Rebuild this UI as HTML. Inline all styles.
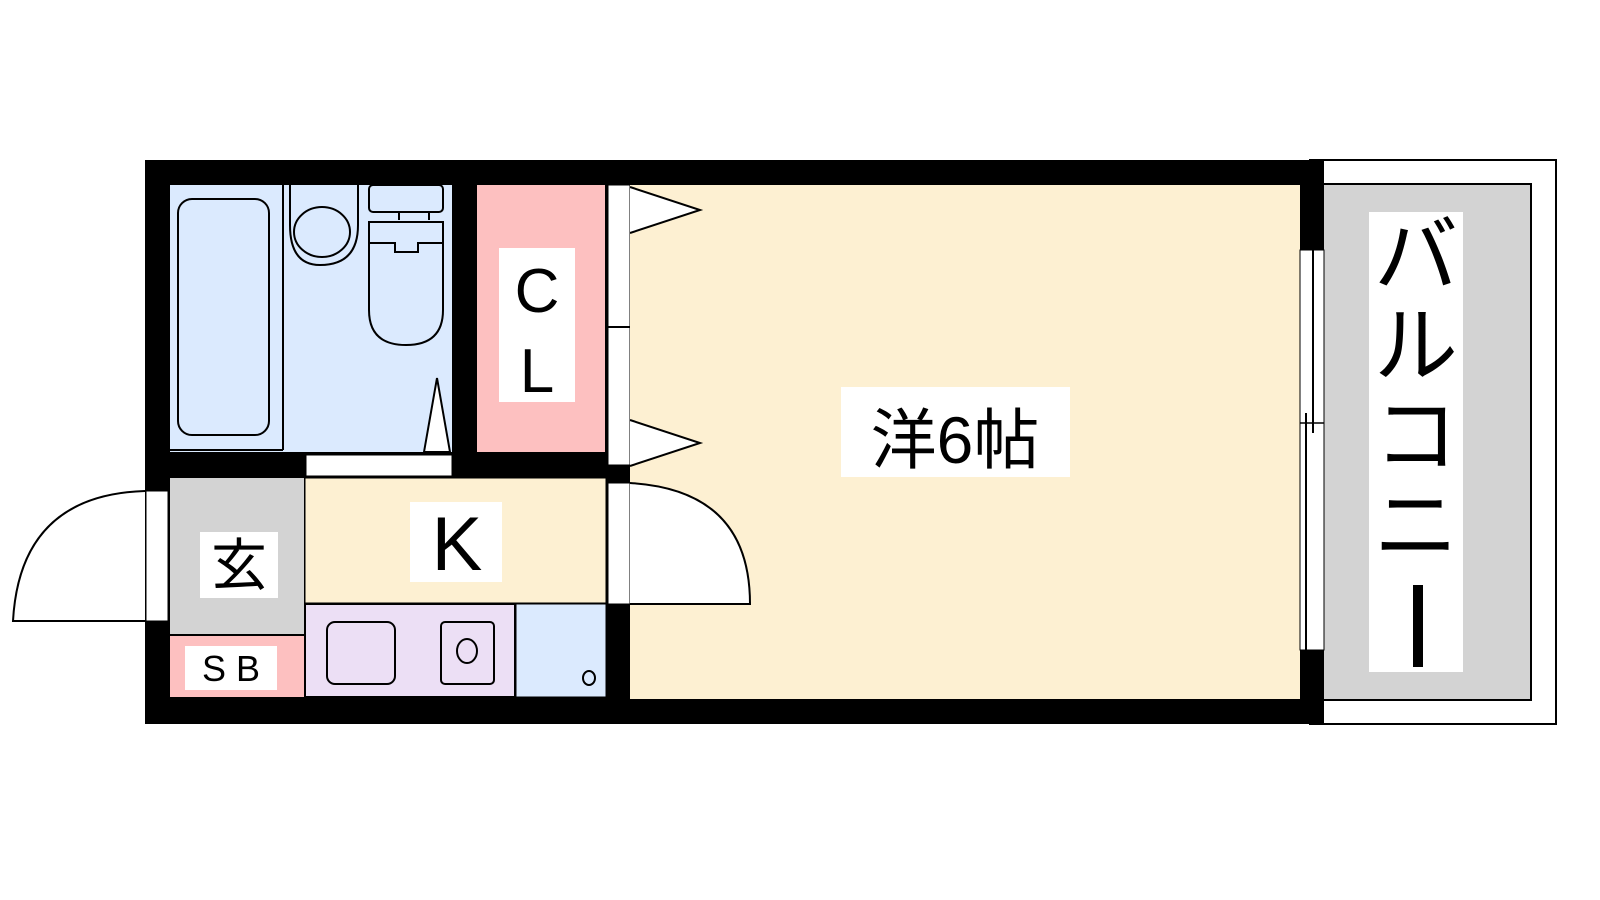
<!DOCTYPE html>
<html><head><meta charset="utf-8"><style>body{margin:0;background:#fff}svg{display:block}</style></head><body>
<svg width="1600" height="900" xmlns="http://www.w3.org/2000/svg" font-family="Liberation Sans, Noto Sans CJK JP, sans-serif">
<rect width="1600" height="900" fill="#fff"/>
<!-- balcony -->
<rect x="1310" y="160" width="246" height="564" fill="#fff" stroke="#000" stroke-width="2"/>
<rect x="1320" y="184" width="211" height="516" fill="#d3d3d3" stroke="#000" stroke-width="2"/>
<!-- walls -->
<rect x="145" y="160" width="1179" height="564" fill="#000"/>
<!-- bath -->
<rect x="170" y="185" width="282" height="267" fill="#dbeafe"/>
<line x1="283" y1="185" x2="283" y2="450" stroke="#000" stroke-width="2"/>
<line x1="170" y1="450" x2="283" y2="450" stroke="#000" stroke-width="2"/>
<rect x="178" y="199" width="91" height="236" rx="14" fill="none" stroke="#000" stroke-width="2"/>
<path d="M290 185 V225 Q290 265 320 265 Q358 265 358 225 V185" fill="none" stroke="#000" stroke-width="2"/>
<ellipse cx="322" cy="232" rx="28" ry="25" fill="none" stroke="#000" stroke-width="2"/>
<rect x="369" y="185" width="74" height="27" rx="4" fill="none" stroke="#000" stroke-width="2"/>
<line x1="399" y1="212" x2="399" y2="220" stroke="#000" stroke-width="2"/><line x1="429" y1="212" x2="429" y2="220" stroke="#000" stroke-width="2"/>
<path d="M369 222 H443 V310 Q443 345 406 345 Q369 345 369 310 Z" fill="none" stroke="#000" stroke-width="2"/>
<path d="M369 243 H395 V252 H418 V243 H443" fill="none" stroke="#000" stroke-width="2"/>
<path d="M424 452 L437 378 L450 452 Z" fill="#fff" stroke="#000" stroke-width="2"/>
<rect x="306" y="455" width="146" height="21" fill="#fff" stroke="#000" stroke-width="1"/>
<!-- CL -->
<rect x="477" y="185" width="128" height="267" fill="#fdc0c0"/>
<rect x="499" y="248" width="76" height="154" fill="#fff"/>
<text x="537" y="312" font-size="62" text-anchor="middle">C</text>
<text x="537" y="392" font-size="62" text-anchor="middle">L</text>
<!-- window strip -->
<rect x="608" y="185" width="22" height="280" fill="#fff" stroke="#000" stroke-width="1"/>
<line x1="608" y1="327" x2="630" y2="327" stroke="#000" stroke-width="2"/>
<!-- main room -->
<rect x="630" y="185" width="670" height="514" fill="#fdf0d2"/>
<path d="M630 187 L700 210 L630 233" fill="#fff" stroke="#000" stroke-width="2"/>
<path d="M630 420 L700 443 L630 466" fill="#fff" stroke="#000" stroke-width="2"/>
<rect x="841" y="387" width="229" height="90" fill="#fff"/>
<text x="955" y="463" font-size="66" text-anchor="middle">洋6帖</text>
<!-- entry -->
<rect x="170" y="478" width="134" height="156" fill="#d3d3d3"/>
<rect x="200" y="532" width="78" height="66" fill="#fff"/>
<text x="239" y="585" font-size="56" text-anchor="middle">玄</text>
<rect x="170" y="636" width="134" height="61" fill="#fdc0c0"/>
<rect x="185" y="646" width="92" height="44" fill="#fff"/>
<text x="231" y="681" font-size="36" text-anchor="middle">S B</text>
<!-- K -->
<rect x="305" y="478" width="301" height="125" fill="#fdf0d2" stroke="#000" stroke-width="1"/>
<rect x="410" y="502" width="92" height="80" fill="#fff"/>
<text x="457" y="570" font-size="76" text-anchor="middle">K</text>
<rect x="305" y="604" width="210" height="93" fill="#ecdff5" stroke="#000" stroke-width="2"/>
<rect x="327" y="622" width="68" height="62" rx="8" fill="none" stroke="#000" stroke-width="2"/>
<rect x="441" y="622" width="53" height="62" rx="4" fill="none" stroke="#000" stroke-width="2"/>
<ellipse cx="467" cy="651" rx="10" ry="12" fill="none" stroke="#000" stroke-width="2"/>
<rect x="516" y="604" width="90" height="93" fill="#dbeafe" stroke="#000" stroke-width="1"/>
<ellipse cx="589" cy="678" rx="6" ry="7" fill="none" stroke="#000" stroke-width="2"/>
<!-- doors -->
<rect x="608" y="483" width="22" height="121" fill="#fff" stroke="#000" stroke-width="1"/>
<path d="M630 483 Q750 490 750 604 H630" fill="#fff" stroke="#000" stroke-width="2"/>
<rect x="146" y="491" width="22" height="130" fill="#fff" stroke="#000" stroke-width="1"/>
<path d="M145 491 Q20 495 13 621 H145" fill="#fff" stroke="#000" stroke-width="2"/>
<!-- right window -->
<rect x="1300" y="250" width="24" height="400" fill="#fff" stroke="#000" stroke-width="1"/>
<line x1="1313" y1="250" x2="1313" y2="433" stroke="#000" stroke-width="2"/>
<line x1="1306" y1="413" x2="1306" y2="650" stroke="#000" stroke-width="2"/>
<line x1="1300" y1="423" x2="1324" y2="423" stroke="#000" stroke-width="1.5"/>
<!-- balcony label -->
<rect x="1369" y="212" width="94" height="460" fill="#fff"/>
<text x="1416" y="285" font-size="84" text-anchor="middle">バ</text>
<text x="1416" y="375" font-size="84" text-anchor="middle">ル</text>
<text x="1416" y="465" font-size="84" text-anchor="middle">コ</text>
<text x="1416" y="555" font-size="84" text-anchor="middle">ニ</text>
<rect x="1413" y="585" width="10" height="82" fill="#000"/>
</svg>
</body></html>
